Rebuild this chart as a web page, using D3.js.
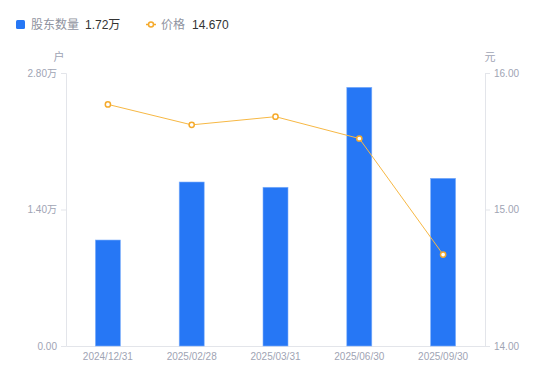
<!DOCTYPE html>
<html>
<head>
<meta charset="utf-8">
<script src="https://cdn.jsdelivr.net/npm/d3@7"></script>
<style>
  body { margin: 0; background: #fff; }
  text { font-family: "Liberation Sans", "Noto Sans CJK SC", sans-serif; }
</style>
</head>
<body>
<div id="chart"></div>
<script>
// data
const dates = ['2024/12/31', '2025/02/28', '2025/03/31', '2025/06/30', '2025/09/30'];
const holders = [1.087, 1.682, 1.628, 2.653, 1.72];   // 万户
const prices = [15.77, 15.62, 15.68, 15.52, 14.67];  // 元
const leftTicks = [0, 1.4, 2.8];
const rightTicks = [14, 15, 16];

const width = 550, height = 381;
const margin = { top: 73, right: 65, bottom: 35, left: 66 };

const svg = d3.select('#chart')
  .append('svg')
  .attr('width', width)
  .attr('height', height);

const x = d3.scaleBand()
  .domain(dates)
  .range([margin.left, width - margin.right]);

const yLeft = d3.scaleLinear().domain([0, 2.8]).range([height - margin.bottom, margin.top]);
const yRight = d3.scaleLinear().domain([14, 16]).range([height - margin.bottom, margin.top]);

const axisColor = '#e3e5ea';
const labelColor = '#a0a4b4';

// left axis
const gl = svg.append('g')
  .attr('transform', `translate(${margin.left},0)`)
  .call(d3.axisLeft(yLeft).tickValues(leftTicks).tickSize(5).tickPadding(4)
    .tickFormat(d => d === 0 ? '0.00' : d.toFixed(2) + '万'));
// right axis
const gr = svg.append('g')
  .attr('transform', `translate(${width - margin.right},0)`)
  .call(d3.axisRight(yRight).tickValues(rightTicks).tickSize(5).tickPadding(4)
    .tickFormat(d => d.toFixed(2)));
// bottom axis
const gb = svg.append('g')
  .attr('transform', `translate(0,${height - margin.bottom})`)
  .call(d3.axisBottom(x).tickSize(0).tickPadding(7));

[gl, gr, gb].forEach(g => {
  g.selectAll('path, line').attr('stroke', axisColor);
  g.selectAll('text').attr('fill', labelColor).style('font-size', '10px')
    .style('font-family', '"Liberation Sans", "Noto Sans CJK SC", sans-serif');
});

// axis unit names
svg.append('text').attr('x', 59).attr('y', 61).attr('text-anchor', 'middle')
  .attr('fill', labelColor).style('font-size', '11px').text('户');
svg.append('text').attr('x', 490).attr('y', 61).attr('text-anchor', 'middle')
  .attr('fill', labelColor).style('font-size', '11px').text('元');

// bars
const barW = 25;
svg.selectAll('rect.bar')
  .data(holders)
  .enter()
  .append('rect')
  .attr('class', 'bar')
  .attr('x', (d, i) => x(dates[i]) + x.bandwidth() / 2 - barW / 2)
  .attr('y', d => yLeft(d))
  .attr('width', barW)
  .attr('height', d => yLeft(0) - yLeft(d))
  .attr('fill', '#2677f5')
  .attr('stroke', '#7fb0fb')
  .attr('stroke-width', 0.6);

// price line
const line = d3.line()
  .x((d, i) => x(dates[i]) + x.bandwidth() / 2)
  .y(d => yRight(d));

svg.append('path')
  .datum(prices)
  .attr('d', line)
  .attr('fill', 'none')
  .attr('stroke', '#f7b844')
  .attr('stroke-width', 1);

svg.selectAll('circle.pt')
  .data(prices)
  .enter()
  .append('circle')
  .attr('class', 'pt')
  .attr('cx', (d, i) => x(dates[i]) + x.bandwidth() / 2)
  .attr('cy', d => yRight(d))
  .attr('r', 2.6)
  .attr('fill', '#fff')
  .attr('stroke', '#f5aa2c')
  .attr('stroke-width', 1.5);

// legend
const leg = svg.append('g');
leg.append('rect').attr('x', 16).attr('y', 20).attr('width', 9).attr('height', 9)
  .attr('rx', 1.5).attr('fill', '#2677f5');
leg.append('text').attr('x', 31).attr('y', 29).attr('fill', '#8f93a0')
  .style('font-size', '12px').text('股东数量');
leg.append('text').attr('x', 85).attr('y', 29).attr('fill', '#333')
  .style('font-size', '12px').text(holders[holders.length - 1].toFixed(2) + '万');

leg.append('line').attr('x1', 146).attr('x2', 156).attr('y1', 24.5).attr('y2', 24.5)
  .attr('stroke', '#f5aa2c').attr('stroke-width', 1.5);
leg.append('circle').attr('cx', 151).attr('cy', 24.5).attr('r', 2.5)
  .attr('fill', '#fff').attr('stroke', '#f5aa2c').attr('stroke-width', 1.5);
leg.append('text').attr('x', 161).attr('y', 29).attr('fill', '#8f93a0')
  .style('font-size', '12px').text('价格');
leg.append('text').attr('x', 192).attr('y', 29).attr('fill', '#333')
  .style('font-size', '12px').text(prices[prices.length - 1].toFixed(3));
</script>
</body>
</html>
